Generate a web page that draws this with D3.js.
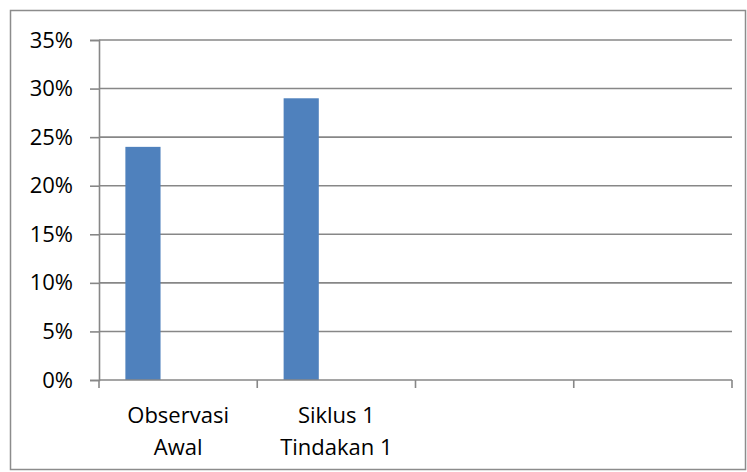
<!DOCTYPE html>
<html>
<head>
<meta charset="utf-8">
<script src="https://cdn.jsdelivr.net/npm/d3@7"></script>
<style>
  body { margin: 0; background: #fff; }
  svg { display: block; font-family: "Open Sans", sans-serif; }
</style>
</head>
<body>
<div id="vis"></div>
<script>
// data
const CATEGORIES = ["c1", "c2", "c3", "c4"];
const CATEGORY_LABELS = [["Observasi", "Awal"], ["Siklus 1", "Tindakan 1"], [""], [""]];
const SERIES = ["s1", "s2", "s3"];
const VALUES = [0.24, 0.29, null, null];
const Y_TICKS = [0, 0.05, 0.10, 0.15, 0.20, 0.25, 0.30, 0.35];

// frame
const FRAME_WIDTH = 747;
const FRAME_HEIGHT = 472;
const MARGINS = {left: 99, right: 15, top: 40, bottom: 92};
const VIS_WIDTH = FRAME_WIDTH - MARGINS.left - MARGINS.right;
const VIS_HEIGHT = FRAME_HEIGHT - MARGINS.top - MARGINS.bottom;

const FRAME = d3.select("#vis")
  .append("svg")
    .attr("width", FRAME_WIDTH)
    .attr("height", FRAME_HEIGHT);

// outer border
FRAME.append("rect")
  .attr("x", 10.5).attr("y", 10.5)
  .attr("width", FRAME_WIDTH - 12).attr("height", FRAME_HEIGHT - 13)
  .attr("fill", "none")
  .attr("stroke", "#8c8c8c")
  .attr("stroke-width", 1.5);

const G = FRAME.append("g")
  .attr("transform", "translate(" + MARGINS.left + "," + MARGINS.top + ")");

// scales
const X_SCALE = d3.scaleBand()
  .domain(CATEGORIES)
  .range([0, VIS_WIDTH])
  .padding(0);

const X_INNER = d3.scaleBand()
  .domain(SERIES)
  .range([0, X_SCALE.bandwidth()])
  .paddingInner(0)
  .paddingOuter(0.75);

const Y_SCALE = d3.scaleLinear()
  .domain([0, 0.35])
  .range([VIS_HEIGHT, 0]);

// gridlines
G.selectAll(".grid")
  .data(Y_TICKS.slice(1))
  .enter()
  .append("line")
    .attr("x1", 0).attr("x2", VIS_WIDTH)
    .attr("y1", d => Y_SCALE(d)).attr("y2", d => Y_SCALE(d))
    .attr("stroke", "#878787")
    .attr("stroke-width", 1.6);

// bars
G.selectAll(".bar")
  .data(VALUES.map((v, i) => ({cat: CATEGORIES[i], v: v})).filter(d => d.v !== null))
  .enter()
  .append("rect")
    .attr("x", d => X_SCALE(d.cat) + X_INNER("s1"))
    .attr("y", d => Y_SCALE(d.v))
    .attr("width", X_INNER.bandwidth())
    .attr("height", d => VIS_HEIGHT - Y_SCALE(d.v))
    .attr("fill", "#4f81bd");

// y axis
const Y_AXIS = G.append("g")
  .call(d3.axisLeft(Y_SCALE)
    .tickValues(Y_TICKS)
    .tickFormat(d3.format(".0%"))
    .tickSize(9)
    .tickPadding(17));
Y_AXIS.selectAll("path, line").attr("stroke", "#878787").attr("stroke-width", 1.6);
Y_AXIS.selectAll("text")
  .attr("font-size", "22px")
  .attr("font-family", "Open Sans, sans-serif")
  .attr("fill", "#000");

// x axis
const X_TICK_POS = CATEGORIES.map(c => X_SCALE(c)).concat([VIS_WIDTH]);
const X_AXIS = G.append("g")
  .attr("transform", "translate(0," + VIS_HEIGHT + ")");
X_AXIS.append("line")
  .attr("x1", 0).attr("x2", VIS_WIDTH)
  .attr("stroke", "#878787").attr("stroke-width", 1.6);
X_AXIS.selectAll(".xtick")
  .data(X_TICK_POS)
  .enter()
  .append("line")
    .attr("x1", d => d).attr("x2", d => d)
    .attr("y1", 0).attr("y2", 8)
    .attr("stroke", "#878787").attr("stroke-width", 1.6);

const LABELS = X_AXIS.selectAll(".xlabel")
  .data(CATEGORIES)
  .enter()
  .append("text")
    .attr("x", d => X_SCALE(d) + X_SCALE.bandwidth() / 2)
    .attr("y", 43)
    .attr("text-anchor", "middle")
    .attr("font-size", "22px")
    .attr("fill", "#000");
LABELS.selectAll("tspan")
  .data((d, i) => CATEGORY_LABELS[i])
  .enter()
  .append("tspan")
    .attr("x", function() { return d3.select(this.parentNode).attr("x"); })
    .attr("dy", (d, i) => i === 0 ? 0 : 32)
    .text(d => d);
</script>
</body>
</html>
